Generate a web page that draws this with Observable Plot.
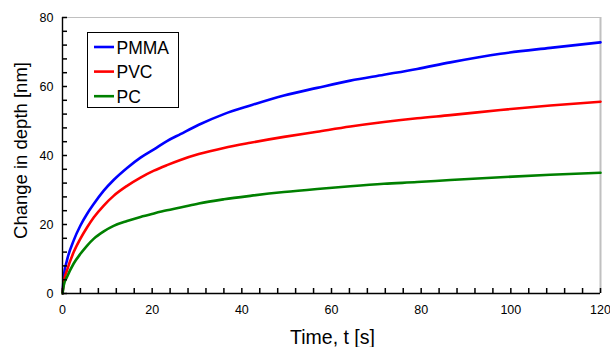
<!DOCTYPE html>
<html>
<head>
<meta charset="utf-8">
<script src="https://cdn.jsdelivr.net/npm/d3@7"></script>
<script src="https://cdn.jsdelivr.net/npm/@observablehq/plot@0.6"></script>
<style>
  html, body { margin: 0; padding: 0; background: #fff; }
  #chart { width: 610px; height: 347px; }
</style>
</head>
<body>
<div id="chart"></div>
<script>
// Data
const seriesNames = ["PMMA", "PVC", "PC"];
const seriesColors = ["#0000ff", "#ff0000", "#008000"];
const time = [0, 0.3, 1, 2.5, 4, 5.5, 7, 9.2, 11.4, 14.4, 17.4, 20.4, 23.3, 26.3, 30.4, 36, 41.9, 49.4, 56.8, 64.2, 71.7, 79.1, 86.5, 97.7, 108.8, 120];
const pmma = [0, 5, 9.6, 15.4, 19.7, 23.1, 26, 29.8, 32.9, 36.4, 39.4, 41.8, 44.2, 46.2, 48.9, 52, 54.5, 57.4, 59.6, 61.7, 63.4, 65.1, 67, 69.5, 71.2, 72.8];
const pvc  = [0, 3.5, 6.7, 12.0, 15.9, 19.2, 22.1, 25.5, 28.3, 31.2, 33.6, 35.6, 37.2, 38.7, 40.4, 42.2, 43.7, 45.4, 46.9, 48.4, 49.7, 50.8, 51.7, 53.2, 54.5, 55.6];
const pc   = [0, 2.5, 4.8, 8.7, 11.5, 13.9, 15.9, 18.0, 19.6, 21.0, 22.2, 23.2, 24.1, 24.9, 26.1, 27.3, 28.3, 29.4, 30.3, 31.1, 31.8, 32.3, 32.9, 33.7, 34.4, 35.0];
const xMajor = [0, 20, 40, 60, 80, 100, 120];
const yMajor = [0, 20, 40, 60, 80];
const xMinor = d3.range(0, 121, 4);
const yMinor = d3.range(0, 81, 4);
const xTitle = "Time, t [s]";
const yTitle = "Change in depth [nm]";

const allSeries = [pmma, pvc, pc];
const rows = [];
seriesNames.forEach((name, i) => {
  time.forEach((t, j) => rows.push({series: name, t, v: allSeries[i][j]}));
});

const font = "'Liberation Sans', Arial, sans-serif";
const W = 610, H = 347, mL = 62, mR = 10, mT = 17, mB = 54, tick = 5;
const xDom = [0, 120], yDom = [0, 80];

const chart = Plot.plot({
  width: W,
  height: H,
  marginLeft: mL,
  marginRight: mR,
  marginTop: mT,
  marginBottom: mB,
  style: {fontFamily: font, fontSize: "12.5px", color: "#000", background: "#fff"},
  x: {domain: xDom, axis: null},
  y: {domain: yDom, axis: null},
  color: {domain: seriesNames, range: seriesColors},
  marks: [
    Plot.ruleY([80], {stroke: "#c0c0c0", strokeWidth: 1}),
    Plot.ruleX([120], {stroke: "#c0c0c0", strokeWidth: 2}),
    Plot.line(rows, {x: "t", y: "v", z: "series", stroke: "series", strokeWidth: 2.6, curve: "monotone-x"}),
    Plot.axisX(xMajor, {tickSize: 0, tickPadding: 12, label: null, fontSize: 12.5}),
    Plot.axisY(yMajor, {tickSize: 0, tickPadding: 9, label: null, fontSize: 12.5}),
    // inward minor ticks (drawn after the axes)
    Plot.tickX(xMinor, {x: d => d, insetTop: H - mT - mB - tick, stroke: "black", strokeWidth: 1.5}),
    Plot.tickY(yMinor, {y: d => d, insetRight: W - mL - mR - tick, stroke: "black", strokeWidth: 1.5}),
    Plot.ruleY([0], {stroke: "#000", strokeWidth: 1.4}),
    Plot.ruleX([0], {stroke: "#000", strokeWidth: 1.4}),
    Plot.text([xTitle], {frameAnchor: "bottom", dx: 1, dy: 50, lineAnchor: "bottom", textAnchor: "middle", fontSize: 19.5, fill: "#000"}),
    Plot.text([yTitle], {frameAnchor: "left", dx: -36, dy: -5, rotate: -90, lineAnchor: "bottom", textAnchor: "middle", fontSize: 18.5, fill: "#000"})
  ]
});

document.getElementById("chart").appendChild(chart);

// Legend drawn inside the SVG
const svg = d3.select(chart);
const lg = svg.append("g").attr("font-family", font).attr("font-size", 17.5).attr("text-anchor", "start");
lg.append("rect").attr("x", 87.5).attr("y", 32.5).attr("width", 91).attr("height", 75)
  .attr("fill", "#fff").attr("stroke", "#000").attr("stroke-width", 1);
seriesNames.forEach((name, i) => {
  const cy = 47 + i * 24.6;
  lg.append("line").attr("x1", 94).attr("x2", 114).attr("y1", cy).attr("y2", cy)
    .attr("stroke", seriesColors[i]).attr("stroke-width", 2.6);
  lg.append("text").attr("x", 116.5).attr("y", cy + 6.5).attr("fill", "#000").attr("text-anchor", "start").text(name);
});
</script>
</body>
</html>
